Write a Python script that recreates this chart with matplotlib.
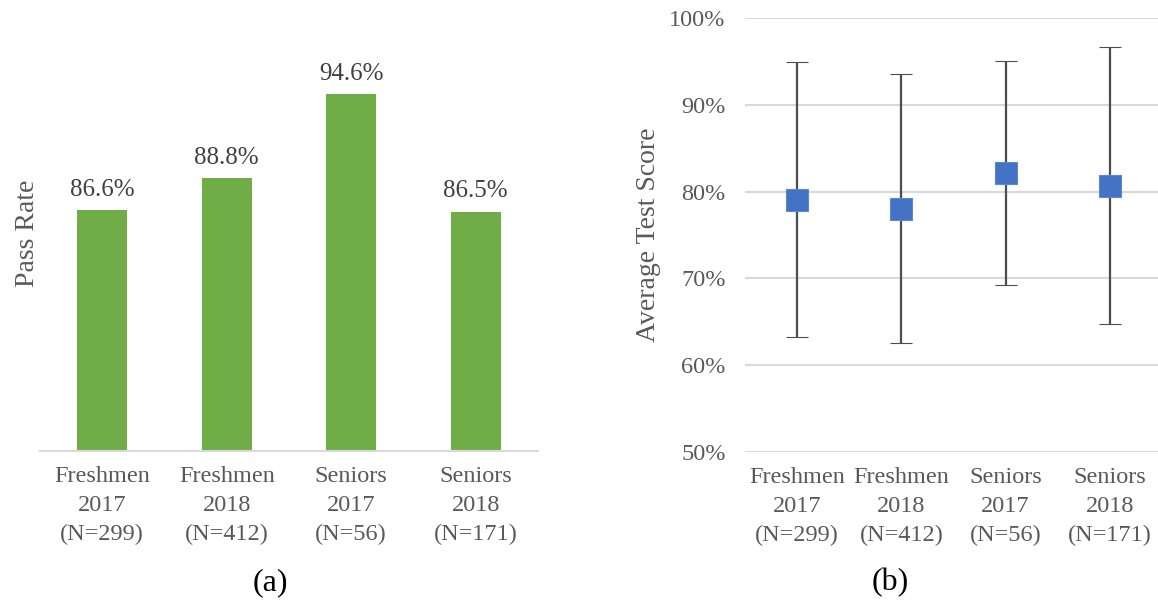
import matplotlib
matplotlib.use("Agg")
import matplotlib.pyplot as plt
from matplotlib.ticker import PercentFormatter

# data
groups = ["Freshmen\n2017\n(N=299)", "Freshmen\n2018\n(N=412)",
          "Seniors\n2017\n(N=56)", "Seniors\n2018\n(N=171)"]
pass_rate = [86.6, 88.8, 94.6, 86.5]
avg_score = [79.0, 78.0, 82.2, 80.7]
score_high = [94.9, 93.5, 95.1, 96.7]
score_low = [63.3, 62.6, 69.2, 64.7]

plt.rcParams['font.family'] = ['Liberation Serif', 'DejaVu Serif']
text_col = '#595959'
grid_col = '#D9D9D9'
fs = 17.5

fig = plt.figure(figsize=(11.58, 6), dpi=100)
W, H = 1158, 600

# (a) pass rate bars
ax1 = fig.add_axes([40 / W, (H - 451) / H, 498 / W, (451 - 16) / H])
x = range(len(groups))
ax1.bar(x, pass_rate, width=0.4, color='#70AD47')
for i, v in enumerate(pass_rate):
    ax1.annotate(f"{v:.1f}%", (i, v), xytext=(0, 7), textcoords='offset points',
                 ha='center', va='bottom', fontsize=18, color='#404040')
ax1.set_ylim(70, 100)
ax1.set_xlim(-0.5, 3.5)
ax1.set_yticks([])
ax1.set_xticks(list(x))
ax1.set_xticklabels(groups, fontsize=fs, color=text_col, linespacing=1.47)
ax1.tick_params(axis='x', length=0, pad=11)
for s in ['top', 'right', 'left']:
    ax1.spines[s].set_visible(False)
ax1.spines['bottom'].set_color(grid_col)
ax1.spines['bottom'].set_linewidth(1.5)
ax1.set_ylabel("Pass Rate", fontsize=20, color=text_col, labelpad=0)

# (b) average test score with ranges
ax2 = fig.add_axes([745 / W, (H - 452) / H, 417 / W, (452 - 18) / H])
ax2.errorbar(list(x), avg_score,
             yerr=[[a - l for a, l in zip(avg_score, score_low)],
                   [h - a for a, h in zip(avg_score, score_high)]],
             fmt='s', color='#4472C4', markersize=16.5, markeredgecolor='#5B87D6',
             markeredgewidth=0.8, ecolor='#4D4D4D', elinewidth=1.6,
             capsize=8, capthick=1.6, zorder=3)
ax2.set_ylim(50, 100)
ax2.set_xlim(-0.5, 3.5)
ax2.set_yticks(range(50, 101, 10))
ax2.yaxis.set_major_formatter(PercentFormatter(decimals=0))
ax2.grid(axis='y', color=grid_col, linewidth=1.5, zorder=0)
ax2.set_axisbelow(True)
ax2.set_xticks(list(x))
ax2.set_xticklabels(groups, fontsize=fs, color=text_col, linespacing=1.47)
ax2.tick_params(axis='x', length=0, pad=11)
ax2.tick_params(axis='y', length=0, pad=14, labelsize=fs, labelcolor=text_col)
for s in ['top', 'right', 'left', 'bottom']:
    ax2.spines[s].set_visible(False)
ax2.set_ylabel("Average Test Score", fontsize=20, color=text_col, labelpad=6)

fig.text(270 / W, 1 - 583 / H, "(a)", ha='center', va='center', fontsize=23, color='black')
fig.text(890 / W, 1 - 583 / H, "(b)", ha='center', va='center', fontsize=23, color='black')

fig.savefig("out.png", dpi=100)
